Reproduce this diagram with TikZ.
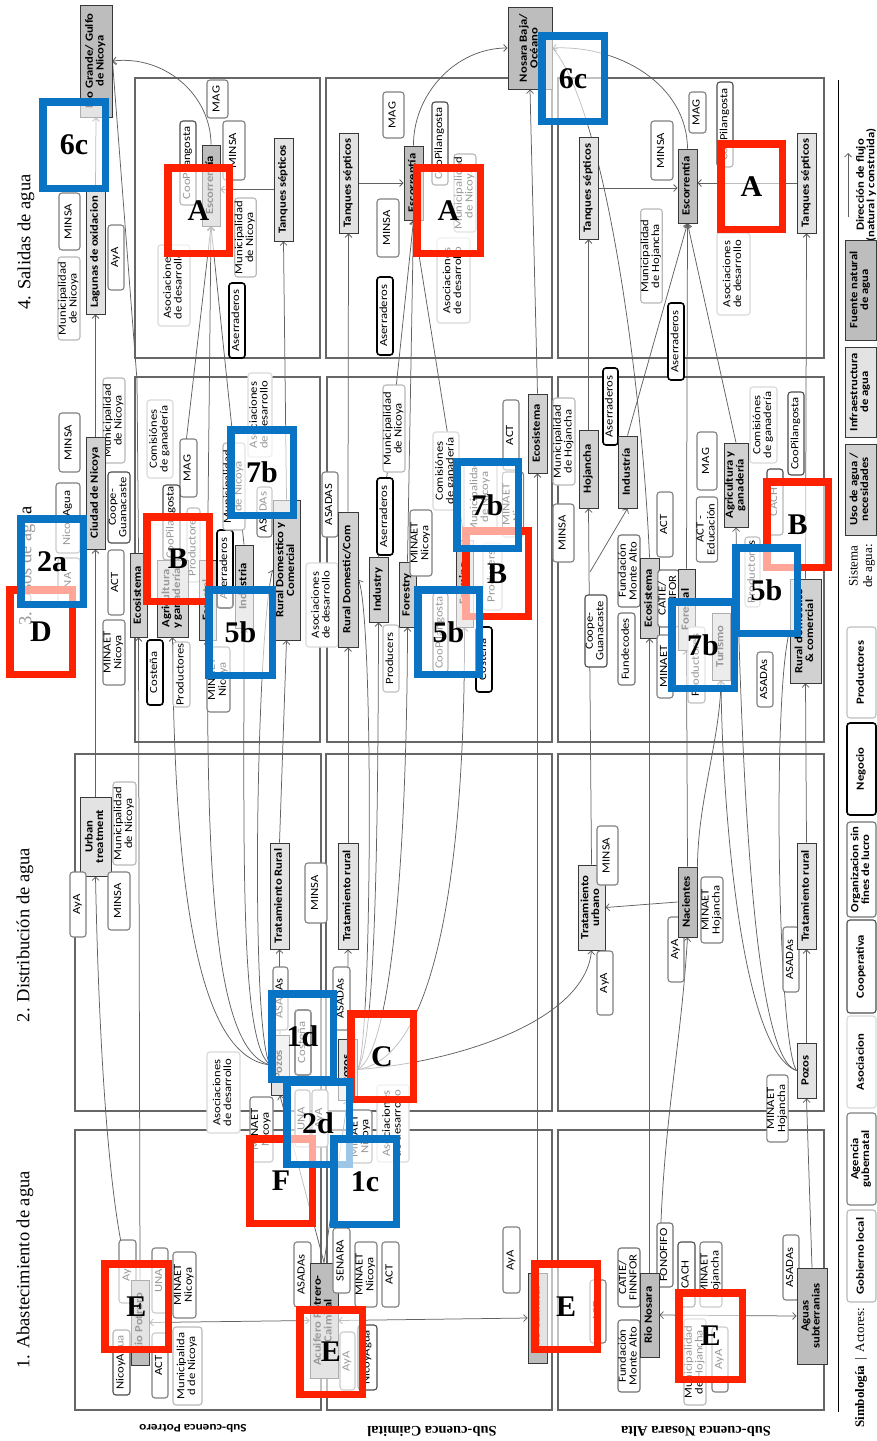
\documentclass[tikz,border=0pt]{standalone}
\usepackage{fontspec}
\usepackage{graphicx}
\usetikzlibrary{arrows.meta,backgrounds}
\newfontfamily\calf{Carlito}[FakeStretch=1.15]
\newfontfamily\tms{Liberation Serif}
\definecolor{annred}{HTML}{FF2200}
\definecolor{annblue}{HTML}{0A74C4}
\newcommand\fs{\calf\fontsize{11}{10.5}\selectfont}
\newcommand\fsb{\calf\bfseries\fontsize{11}{10.5}\selectfont}
\newcommand\rt[1]{\rotatebox{90}{\begin{tabular}{@{}c@{}}#1\end{tabular}}}
\newcommand\bx[7]{\node[#1,minimum width={(#5-#3)*1pt},minimum height={(#6-#4)*1pt}] (#2) at ({(#3+#5)/2},{(#4+#6)/2}) {\rt{#7}};}
\newcommand\anR[5]{\draw[annR] ({#1+3.75},{#2+3.75}) rectangle ({#3-3.75},{#4-3.75}); \node[anl] at ({(#1+#3)/2},{(#2+#4)/2}) {#5};}
\newcommand\anB[5]{\draw[annB] ({#1+3.75},{#2+3.75}) rectangle ({#3-3.75},{#4-3.75}); \node[anl] at ({(#1+#3)/2},{(#2+#4)/2}) {#5};}
\tikzset{
 act/.style={draw, rounded corners=3pt, fill=white, line width=1.1pt, inner sep=0pt, font=\fs},
 ag/.style={act, draw=black!50},
 gl/.style={act, draw=black!28},
 as/.style={act, draw=black!15},
 co/.style={act, draw=black!70},
 og/.style={act, draw=black!55},
 ng/.style={act, draw=black, line width=1.6pt},
 pr/.style={act, draw=black!25},
 fn/.style={draw=black!78, fill=black!26, line width=0.9pt, inner sep=0pt, font=\fsb},
 inf/.style={fn, fill=black!11},
 uso/.style={fn, fill=black!18},
 pan/.style={draw=black!60, line width=1.2pt},
 flow/.style={draw=black!62, line width=0.75pt, -{Straight Barb[length=3.5pt,width=7pt]}},
 flow2/.style={draw=black!62, line width=0.75pt, {Straight Barb[length=3.5pt,width=7pt]}-{Straight Barb[length=3.5pt,width=7pt]}},
 hd/.style={font=\tms\fontsize{18.5}{20}\selectfont, rotate=90, inner sep=0pt},
 sc/.style={rotate=180, inner sep=0pt},
 annR/.style={draw=annred, line width=7.5pt, fill=white, fill opacity=0.6},
 annB/.style={draw=annblue, line width=7.5pt, fill=white, fill opacity=0.6},
 anl/.style={font=\tms\bfseries\fontsize{30}{30}\selectfont, inner sep=0pt}
}
\begin{document}
\begin{tikzpicture}[x=1pt,y=-1pt]
\useasboundingbox (0,0) rectangle (877,1441);
% headings
\node[hd] (h4) at (26,242) {4. Salidas de agua};
\node[hd] (h3) at (27,566) {3. Usos de agua};
\node[hd] (h2) at (25,935) {2. Distribución de agua};
\node[hd] (h1) at (25,1270) {1. Abastecimiento de agua};
\node[sc, font=\calf\bfseries\fontsize{11.5}{12}\selectfont] (s1) at (193,1428) {Sub-cuenca Potrero};
\node[sc, font=\tms\bfseries\fontsize{14.5}{15}\selectfont] (s2) at (432,1431) {Sub-cuenca Caimital};
\node[sc, font=\tms\bfseries\fontsize{14.5}{15}\selectfont] (s3) at (696,1431) {Sub-cuenca Nosara Alta};
% outputs
\bx{fn}{RG}{80}{5}{112}{117}{Rio Grande/ Gulfo\\de Nicoya}
\bx{fn}{NB}{508}{7}{552}{89}{Nosara Baja/\\Océano}
% row 4 left
\bx{ag}{MINSAl4}{59}{193}{80}{250}{MINSA}
\bx{gl}{MunNl4}{58}{257}{80}{340}{Municipalidad\\de Nicoya}
\bx{inf}{Lagu}{86}{190}{105}{314}{Lagunas de oxidacion}
\bx{ag}{AyAl4}{108}{225}{124}{290}{AyA}
% row 4 panel 1
\bx{ag}{MAG1}{207}{80}{228}{118}{MAG}
\bx{co}{CooP1}{180}{121}{196}{205}{CooPilangosta}
\bx{ag}{MINSA1}{223}{121}{245}{180}{MINSA}
\bx{fn}{Esc1}{202}{145}{220}{226}{Escorrentía}
\bx{inf}{Tq1}{274}{138}{293}{241}{Tanques sépticos}
\bx{gl}{MunN1}{235}{198}{256}{277}{Municipalidad\\de Nicoya}
\bx{as}{Aso1}{158}{245}{190}{326}{Asociaciones\\de desarrollo}
\bx{ng}{Ase1}{229}{283}{245}{358}{Aserraderos}
% row 4 panel 2
\bx{inf}{Tq2}{339}{133}{358}{233}{Tanques sépticos}
\bx{ag}{MAG2}{383}{92}{404}{138}{MAG}
\bx{ag}{MINSA2}{377}{199}{399}{257}{MINSA}
\bx{fn}{Esc2}{404}{146}{423}{220}{Escorrentía}
\bx{co}{CooP2}{432}{102}{448}{185}{CooPilangosta}
\bx{gl}{MunN2}{454}{154}{476}{232}{Municipalidad\\de Nicoya}
\bx{as}{Aso2}{437}{238}{470}{323}{Asociaciones\\de desarrollo}
\bx{ng}{Ase2}{377}{277}{393}{355}{Aserraderos}
% row 4 panel 3
\bx{inf}{Tq3a}{579}{137}{598}{239}{Tanques sépticos}
\bx{ag}{MINSA3}{651}{121}{673}{180}{MINSA}
\bx{ag}{MAG3}{689}{92}{706}{133}{MAG}
\bx{co}{CooP3}{717}{82}{733}{167}{CooPilangosta}
\bx{fn}{Esc3}{678}{149}{697}{223}{Escorrentía}
\bx{inf}{Tq3b}{797}{133}{816}{233}{Tanques sépticos}
\bx{gl}{MunH3}{641}{209}{662}{303}{Municipalidad\\de Hojancha}
\bx{as}{Aso3}{717}{233}{750}{315}{Asociaciones\\de desarrollo}
\bx{ng}{Ase3}{668}{303}{684}{380}{Aserraderos}
% row 3 left
\bx{ag}{MINSAl3}{59}{413}{80}{472}{MINSA}
\bx{gl}{MunNl3}{103}{378}{125}{463}{Municipalidad\\de Nicoya}
\bx{co}{CoopGl3}{108}{472}{130}{543}{Coope-\\Guanacaste}
\bx{ag}{NicoyAl3}{56}{483}{80}{553}{NicoyAgua}
\bx{ag}{INAl3}{58}{558}{80}{606}{INA}
\bx{ag}{ACTl3}{108}{550}{124}{615}{ACT}
\bx{ag}{MINAETl3}{103}{620}{125}{685}{MINAET\\Nicoya}
\bx{uso}{Cdn}{86}{437}{105}{549}{Ciudad de Nicoya}
% row 3 panel 1
\bx{as}{Com1}{147}{400}{173}{478}{Comisiónes\\de ganadería}
\bx{ag}{MAG1b}{180}{439}{197}{497}{MAG}
\bx{co}{CooP1b}{163}{485}{180}{560}{CooPilangosta}
\bx{pr}{Prod1a}{187}{508}{200}{582}{Productores}
\bx{uso}{Agr1}{157}{560}{188}{637}{Agricultura\\y ganadería}
\bx{uso}{Eco1}{130}{553}{147}{637}{Ecosistema}
\bx{uso}{For1}{199}{560}{216}{640}{Forestal}
\bx{ng}{Ase1b}{217}{530}{233}{608}{Aserraderos}
\bx{uso}{Ind1}{235}{545}{253}{628}{Industria}
\bx{gl}{MunN1b}{223}{443}{245}{530}{Municipalidad\\de Nicoya}
\bx{ag}{ASADAs1b}{257}{487}{272}{537}{ASADAs}
\bx{as}{Aso1b}{248}{373}{272}{457}{Asociaciones\\de desarrollo}
\bx{uso}{RD1}{273}{500}{300}{640}{Rural Domestico y\\Comercial}
\bx{ng}{Cos1}{147}{640}{163}{705}{Costeña}
\bx{pr}{Prod1b}{173}{642}{190}{707}{Productores}
\bx{ag}{MINAET1b}{207}{647}{230}{712}{MINAET\\Nicoya}
% row 3 panel 2
\bx{gl}{MunN2b}{383}{385}{405}{472}{Municipalidad\\de Nicoya}
\bx{ag}{ASADAS2b}{322}{472}{338}{537}{ASADAS}
\bx{ng}{Ase2b}{377}{478}{393}{555}{Aserraderos}
\bx{as}{Aso2b}{306}{563}{338}{647}{Asociaciones\\de desarrollo}
\bx{uso}{RDC2}{338}{512}{358}{647}{Rural Domestic/Com}
\bx{uso}{Ind2}{369}{557}{388}{622}{Industry}
\bx{uso}{For2}{399}{562}{416}{627}{Forestry}
\bx{ag}{MINAET2b}{410}{510}{432}{576}{MINAET\\Nicoya}
\bx{pr}{Prod2a}{383}{625}{399}{692}{Producers}
\bx{as}{Com2}{433}{432}{459}{510}{Comisiónes\\de ganadería}
\bx{co}{CooP2b}{433}{593}{448}{672}{CooPilangosta}
\bx{uso}{Farm2}{456}{540}{473}{627}{Farming}
\bx{pr}{Prod2b}{483}{543}{502}{610}{Producers}
\bx{ag}{ACT2b}{503}{400}{519}{470}{ACT}
\bx{ag}{MINAET2c}{503}{472}{523}{537}{MINAET\\Nicoya}
\bx{gl}{MunN2c}{464}{467}{497}{527}{Municipalidad\\de Nicoya}
\bx{ng}{Cos2}{476}{627}{492}{692}{Costeña}
\bx{uso}{Eco2}{528}{394}{547}{473}{Ecosistema}
\bx{gl}{MunH2b}{553}{398}{575}{485}{Municipalidad\\de Hojancha}
\bx{ag}{MINSA2b}{553}{504}{574}{562}{MINSA}
% row 3 panel 3
\bx{uso}{Hoj}{579}{430}{598}{508}{Hojancha}
\bx{ng}{Ase3b}{603}{368}{618}{445}{Aserraderos}
\bx{uso}{Ind3}{618}{436}{637}{508}{Industría}
\bx{co}{CoopG3}{585}{595}{607}{667}{Coope-\\Guanacaste}
\bx{og}{FMA3}{618}{535}{640}{607}{Fundación\\Monte Alto}
\bx{og}{Fund3}{618}{613}{635}{685}{Fundecodes}
\bx{uso}{Eco3}{640}{558}{659}{638}{Ecosistema}
\bx{ag}{ACT3}{657}{492}{673}{557}{ACT}
\bx{og}{CATIE3}{659}{570}{678}{627}{CATIE/\\FINNFOR}
\bx{uso}{For3}{678}{569}{695}{650}{Forestal}
\bx{ag}{MINAET3}{657}{635}{673}{698}{MINAET}
\bx{pr}{Prod3a}{688}{627}{705}{703}{Productores}
\bx{uso}{Tur3}{712}{613}{730}{680}{Turismo}
\bx{ag}{MAG3b}{697}{432}{717}{490}{MAG}
\bx{ag}{ACTE3}{697}{497}{717}{562}{ACT -\\Educación}
\bx{uso}{Agr3}{724}{443}{748}{527}{Agricultura y\\ganadería}
\bx{as}{Com3}{750}{387}{777}{463}{Comisiónes\\de ganadería}
\bx{co}{CooP3b}{788}{392}{804}{475}{CooPilangosta}
\bx{co}{CACH3}{767}{469}{783}{535}{CACH}
\bx{pr}{Prod3b}{745}{537}{760}{607}{Productores}
\bx{uso}{RD3}{790}{579}{821}{683}{Rural doméstico\\\& comercial}
\bx{ag}{ASADAs3b}{757}{652}{773}{707}{ASADAs}
% row 2 panel 1
\bx{inf}{UT}{80}{797}{111}{876}{Urban\\treatment}
\bx{ag}{AyAr2}{70}{872}{86}{937}{AyA}
\bx{gl}{MunNr2}{113}{782}{136}{865}{Municipalidad\\de Nicoya}
\bx{ag}{MINSAr2}{108}{872}{130}{930}{MINSA}
\bx{inf}{TR1}{270}{843}{289}{949}{Tratamiento Rural}
\bx{ag}{ASADAsr2}{273}{967}{288}{1030}{ASADAs}
\bx{inf}{Pz1}{271}{1035}{289}{1095}{Pozos}
\bx{ng}{Cosr2}{295}{1010}{311}{1075}{Costeña}
\bx{as}{Asor2}{207}{1052}{240}{1133}{Asociaciones\\de desarrollo}
\bx{ag}{MINAETr2}{250}{1097}{273}{1162}{MINAET\\Nicoya}
\bx{ag}{UNAr2}{295}{1090}{310}{1147}{UNA}
\bx{ag}{AyAr2b}{312}{1090}{328}{1147}{AyA}
\bx{ag}{MINAETr2b}{350}{1110}{372}{1163}{MINAET\\Nicoya}
\bx{as}{Asor2b}{377}{1085}{409}{1162}{Asociaciones\\de desarrollo}
% row 2 panel 2
\bx{ag}{MINSAr2c}{305}{863}{327}{923}{MINSA}
\bx{inf}{TR2}{338}{843}{358}{949}{Tratamiento rural}
\bx{ag}{ASADAsr2c}{333}{967}{350}{1030}{ASADAs}
\bx{inf}{Pz2}{338}{1039}{357}{1100}{Pozos}
% row 2 panel 3
\bx{inf}{TU3}{578}{865}{605}{950}{Tratamiento\\urbano}
\bx{ag}{MINSAr23}{597}{826}{618}{885}{MINSA}
\bx{ag}{AyAr23}{597}{951}{613}{1015}{AyA}
\bx{ag}{AyAr23b}{668}{917}{684}{982}{AyA}
\bx{fn}{Nac}{678}{867}{697}{937}{Nacientes}
\bx{ag}{MINAETHr23}{701}{877}{723}{943}{MINAET\\Hojancha}
\bx{ag}{ASADAsr23}{783}{927}{799}{992}{ASADAs}
\bx{inf}{TR3}{797}{843}{816}{949}{Tratamiento rural}
\bx{inf}{Pz3}{797}{1043}{816}{1098}{Pozos}
\bx{ag}{MINAETHr23b}{767}{1075}{788}{1142}{MINAET\\Hojancha}
% row 1 panel 1
\bx{ag}{AyAr1}{119}{1240}{136}{1303}{AyA}
\bx{ag}{UNAr1}{152}{1248}{168}{1313}{UNA}
\bx{ag}{MINAETr1}{173}{1252}{196}{1318}{MINAET\\Nicoya}
\bx{fn}{RP}{131}{1280}{149}{1365}{Rio Potrero}
\bx{co}{NicoyAr1}{113}{1330}{130}{1395}{NicoyAgua}
\bx{ag}{ACTr1}{152}{1333}{168}{1398}{ACT}
\bx{gl}{MunNr1}{173}{1327}{202}{1405}{Municipalida\\d de Nicoya}
% row 1 panel 2
\bx{ag}{ASADAsr1}{294}{1242}{311}{1307}{ASADAs}
\bx{fn}{Acu}{310}{1263}{338}{1378}{Acuifero Potrero-\\Caimital}
\bx{ag}{SEN}{333}{1228}{350}{1293}{SENARA}
\bx{ag}{MINAETr1b}{355}{1242}{377}{1307}{MINAET\\Nicoya}
\bx{ag}{ACTr1b}{382}{1242}{399}{1307}{ACT}
\bx{ag}{AyAr1b}{340}{1332}{355}{1390}{AyA}
\bx{co}{NicoyAr1b}{358}{1325}{377}{1390}{NicoyAgua}
\bx{ag}{AyAr1c}{503}{1227}{520}{1293}{AyA}
\bx{fn}{RC}{528}{1273}{547}{1363}{Rio Caimital}
% row 1 panel 3
\bx{ag}{ACTr13}{590}{1280}{606}{1343}{ACT}
\bx{og}{FMAr1}{618}{1320}{640}{1392}{Fundación\\Monte Alto}
\bx{og}{CATIEr1}{618}{1248}{640}{1307}{CATIE/\\FINNFOR}
\bx{og}{FON}{657}{1223}{673}{1287}{FONOFIFO}
\bx{fn}{RN}{640}{1273}{659}{1357}{Rio Nosara}
\bx{co}{CACHr1}{678}{1242}{695}{1307}{CACH}
\bx{ag}{MINAETHr1}{700}{1242}{722}{1307}{MINAET\\Hojancha}
\bx{gl}{MunHr1}{684}{1319}{706}{1405}{Municipalidad\\de Hojancha}
\bx{ag}{AyAr13}{712}{1327}{728}{1392}{AyA}
\bx{ag}{ASADAsr13}{783}{1235}{799}{1300}{ASADAs}
\bx{fn}{AS}{797}{1268}{827}{1364}{Aguas\\subterranias}
\coordinate (br) at (590,572);
% legend
\coordinate (lgA) at (848,217);
\coordinate (lgB) at (848,153);
\node[rotate=90, font=\fsb, align=center, inner sep=0pt] (lgT) at (866,185) {Dirección de flujo\\(natural y construida)};
\bx{fn}{Lfn}{845}{240}{876}{340}{Fuente natural\\de agua}
\bx{inf}{Linf}{845}{347}{876}{437}{Infraestructura\\de agua}
\bx{uso}{Luso}{845}{444}{876}{535}{Uso de agua /\\necesidades}
\node[rotate=90, font=\tms\fontsize{13}{14.5}\selectfont, align=center, inner sep=0pt] (lsis) at (862,566) {Sistema\\de agua:};
\bx{pr,font=\fsb}{Lpr}{847}{627}{876}{718}{Productores}
\bx{ng,font=\fsb}{Lng}{847}{723}{876}{815}{Negocio}
\bx{og,font=\fsb}{Log}{847}{822}{876}{917}{Organizacion sin\\fines de lucro}
\bx{co,font=\fsb}{Lco}{847}{920}{876}{1013}{Cooperativa}
\bx{as,font=\fsb}{Las}{847}{1016}{876}{1108}{Asociacion}
\bx{ag,font=\fsb}{Lagen}{847}{1113}{876}{1205}{Agencia\\gubernatal}
\bx{gl,font=\fsb}{Lgl}{847}{1210}{876}{1302}{Gobierno local}
\node[rotate=90, font=\tms\fontsize{13}{14}\selectfont, inner sep=0pt] (lsim) at (861,1368) {\textbf{Simbología} \,|\, Actores:};
\begin{pgfonlayer}{background}
\fill[white] (0,0) rectangle (877,1441);
\draw[black, line width=1pt] (838,80) -- (838,1412);
\draw[flow] (lgA) -- (lgB);
% panels
\draw[pan] (135,78) rectangle (320,358);
\draw[pan] (326,78) rectangle (552,358);
\draw[pan] (558,78) rectangle (824,358);
\draw[pan] (135,377) rectangle (320,742);
\draw[pan] (327,377) rectangle (552,742);
\draw[pan] (558,377) rectangle (824,742);
\draw[pan] (75,754) rectangle (321,1111);
\draw[pan] (326,754) rectangle (552,1111);
\draw[pan] (558,754) rectangle (824,1111);
\draw[pan] (75,1130) rectangle (321,1410);
\draw[pan] (327,1130) rectangle (552,1410);
\draw[pan] (558,1130) rectangle (824,1410);
% connectors
\draw[flow] (Esc1.north) .. controls (211,95) and (165,55) .. (RG.east);
\draw[flow] (Eco1.north) -- (137,380) -- (RG.east);
\draw[flow] (Tq1.west) -- (Tq1.west -| Esc1.east);
\draw[flow] (Lagu.north) -- (RG.south);
\draw[flow] (Cdn.north) -- (Lagu.south);
\draw[flow] (UT.north) -- (Cdn.south);
\draw[flow] (RP.north west) .. controls (114,1235) and (100,1100) .. (UT.south);
\draw[flow] (RP.north) -- (Eco1.south);
\draw[flow2] (Acu.west) -- (RP.east);
\draw[flow2] (Acu.east) -- (RC.west);
\draw[flow] (RC.north) -- (Eco2.south);
\draw[flow] (Eco2.north) -- (NB.south);
\draw[flow] (Acu.north) -- (Pz1.south);
\draw[flow] (Acu.north) -- (Pz2.south);
\draw[flow] (Pz1.north) -- (TR1.south);
\draw[flow] (TR1.north) -- (RD1.south);
\draw[flow] (Pz1.west) .. controls (200,1058) and (174,900) .. (Agr1.south);
\draw[flow] (Pz1.west) .. controls (215,1052) and (207,880) .. (For1.south);
\draw[flow] (Pz1.west) .. controls (240,1045) and (244,860) .. (Ind1.south);
\draw[flow] (Pz1.west) .. controls (250,1040) and (256,640) .. (RD1.west);
\draw[flow] (Pz2.north) -- (TR2.south);
\draw[flow] (TR2.north) -- (RDC2.south);
\draw[flow] (Pz2.east) .. controls (372,1050) and (374,620) .. (RDC2.east);
\draw[flow] (Pz2.east) .. controls (376,1045) and (378,820) .. (Ind2.south);
\draw[flow] (Pz2.east) .. controls (395,1050) and (407,820) .. (For2.south);
\draw[flow] (Pz2.east) .. controls (440,1058) and (465,850) .. (Farm2.south);
\draw[flow] (Pz2.east) .. controls (460,1062) and (585,1020) .. (TU3.south);
\draw[flow] (Agr1.north) -- (Esc1.south);
\draw[flow] (For1.north) -- (Esc1.south);
\draw[flow] (Ind1.north) -- (Esc1.south);
\draw[flow] (RD1.north) -- (Tq1.south);
\draw[flow] (RDC2.north) -- (Tq2.south);
\draw[flow] (Ind2.north) -- (Esc2.south);
\draw[flow] (For2.north) -- (Esc2.south);
\draw[flow] (Farm2.north) -- (Esc2.south);
\draw[flow] (Tq2.east) -- (Tq2.east -| Esc2.west);
\draw[flow] (Esc2.north) .. controls (413,95) and (455,48) .. (NB.west);
\draw[flow] (Hoj.north) -- (Tq3a.south);
\draw[flow] (Ind3.north) -- (Esc3.south);
\draw[flow] (For3.north) -- (Esc3.south);
\draw[flow] (Agr3.north) -- (Esc3.south);
\draw[flow] (RD3.north) -- (Tq3b.south);
\draw[flow] (Tq3a.east) -- (Tq3a.east -| Esc3.west);
\draw[flow] (Tq3b.west) -- (Tq3b.west -| Esc3.east);
\draw[flow] (Esc3.north) .. controls (687,85) and (620,45) .. (NB.east);
\draw[flow] (Eco3.north) .. controls (642,380) and (605,110) .. (NB.east);
\draw[flow] (RN.north) -- (Eco3.south);
\draw[flow] (RN.north east) .. controls (662,1120) and (680,1060) .. (Nac.south);
\draw[flow] (Nac.west) -- (TU3.east);
\draw[flow] (Nac.north) -- (For3.south);
\draw[flow] (Nac.north east) .. controls (698,800) and (720,740) .. (Tur3.south);
\draw[flow] (TU3.north) -- (Hoj.south);
\draw[flow] (br) -- (Ind3.south);
\draw[flow] (Pz3.north) -- (TR3.south);
\draw[flow] (TR3.north) -- (RD3.south);
\draw[flow] (AS.north) -- (Pz3.south);
\draw[flow2] (AS.west) -- (RN.east);
\draw[flow] (Pz3.west) .. controls (740,1050) and (722,800) .. (Tur3.south);
\draw[flow] (Pz3.west) .. controls (755,1058) and (742,800) .. (Agr3.south);
\draw[flow] (Pz3.west) .. controls (778,1045) and (772,700) .. (RD3.west);
\end{pgfonlayer}
% annotations: red
\anR{164}{164}{233}{257}{A}
\anR{413}{164}{484}{257}{A}
\anR{717}{140}{786}{233}{A}
\anR{143}{513}{213}{605}{B}
\anR{462}{527}{532}{620}{B}
\anR{763}{478}{832}{571}{B}
\anR{347}{1010}{417}{1103}{C}
\anR{6}{586}{76}{678}{D}
\anR{101}{1260}{172}{1353}{E}
\anR{296}{1306}{366}{1398}{E}
\anR{531}{1260}{601}{1353}{E}
\anR{675}{1289}{746}{1383}{E}
\anR{246}{1135}{316}{1227}{F}
% annotations: blue
\anB{39}{98}{109}{192}{6c}
\anB{538}{32}{608}{125}{6c}
\anB{17}{515}{87}{608}{2a}
\anB{227}{426}{297}{519}{7b}
\anB{205}{586}{276}{679}{5b}
\anB{453}{458}{522}{552}{7b}
\anB{414}{586}{483}{678}{5b}
\anB{732}{544}{801}{637}{5b}
\anB{668}{598}{738}{692}{7b}
\anB{268}{990}{337}{1083}{1d}
\anB{283}{1078}{353}{1168}{2d}
\anB{330}{1135}{400}{1228}{1c}
\end{tikzpicture}
\end{document}
